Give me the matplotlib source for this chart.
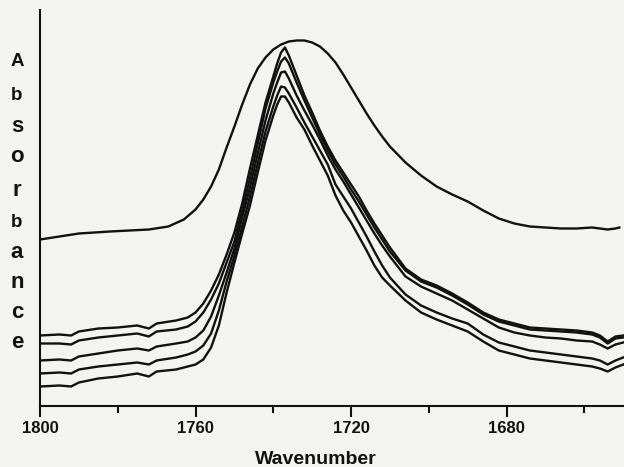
import matplotlib
matplotlib.use("Agg")
import matplotlib.pyplot as plt

# ---- data ----
wavenumber = [1800, 1795, 1792, 1790, 1785, 1780, 1775, 1772, 1770, 1765,
              1762, 1760, 1758, 1756, 1754, 1752, 1750, 1748, 1746, 1744,
              1742, 1740, 1739, 1738, 1737, 1736, 1734, 1732, 1730, 1728,
              1726, 1724, 1722, 1720, 1718, 1716, 1714, 1712, 1710, 1706,
              1702, 1698, 1694, 1690, 1686, 1682, 1678, 1674, 1670, 1666,
              1662, 1658, 1656, 1654, 1652, 1650]

spec1 = [0.70, 0.71, 0.70, 0.74, 0.77, 0.78, 0.80, 0.77, 0.82, 0.85,
         0.88, 0.93, 1.02, 1.15, 1.31, 1.51, 1.73, 2.02, 2.37, 2.70,
         3.03, 3.29, 3.42, 3.53, 3.58, 3.50, 3.30, 3.10, 2.93, 2.75,
         2.59, 2.45, 2.33, 2.21, 2.09, 1.95, 1.82, 1.70, 1.58, 1.37,
         1.26, 1.20, 1.12, 1.03, 0.93, 0.86, 0.82, 0.78, 0.77, 0.76,
         0.75, 0.73, 0.70, 0.64, 0.69, 0.70]
spec2 = [0.62, 0.62, 0.61, 0.65, 0.68, 0.70, 0.72, 0.69, 0.74, 0.76,
         0.79, 0.84, 0.93, 1.06, 1.22, 1.43, 1.64, 1.95, 2.27, 2.62,
         2.97, 3.23, 3.34, 3.44, 3.48, 3.42, 3.23, 3.05, 2.88, 2.71,
         2.55, 2.41, 2.29, 2.16, 2.04, 1.91, 1.78, 1.66, 1.54, 1.35,
         1.24, 1.18, 1.10, 1.01, 0.91, 0.84, 0.80, 0.76, 0.75, 0.74,
         0.73, 0.71, 0.68, 0.62, 0.67, 0.68]
spec3 = [0.45, 0.46, 0.45, 0.49, 0.52, 0.55, 0.57, 0.55, 0.59, 0.62,
         0.64, 0.68, 0.75, 0.89, 1.10, 1.33, 1.57, 1.88, 2.18, 2.52,
         2.85, 3.12, 3.23, 3.33, 3.34, 3.27, 3.10, 2.95, 2.81, 2.66,
         2.50, 2.36, 2.24, 2.11, 1.98, 1.85, 1.72, 1.60, 1.49, 1.29,
         1.19, 1.12, 1.05, 0.96, 0.87, 0.78, 0.73, 0.70, 0.68, 0.67,
         0.65, 0.64, 0.61, 0.57, 0.61, 0.63]
spec4 = [0.32, 0.33, 0.32, 0.36, 0.39, 0.41, 0.43, 0.41, 0.45, 0.48,
         0.51, 0.54, 0.60, 0.72, 0.95, 1.24, 1.50, 1.79, 2.09, 2.42,
         2.74, 2.99, 3.10, 3.19, 3.18, 3.12, 2.98, 2.83, 2.69, 2.55,
         2.41, 2.21, 2.09, 1.97, 1.83, 1.69, 1.54, 1.40, 1.28, 1.11,
         1.00, 0.93, 0.87, 0.82, 0.71, 0.63, 0.59, 0.55, 0.53, 0.51,
         0.49, 0.47, 0.45, 0.41, 0.45, 0.48]
spec5 = [0.19, 0.20, 0.19, 0.23, 0.27, 0.29, 0.32, 0.29, 0.34, 0.36,
         0.39, 0.41, 0.46, 0.58, 0.80, 1.13, 1.43, 1.72, 2.00, 2.33,
         2.65, 2.90, 3.01, 3.09, 3.09, 3.03, 2.88, 2.76, 2.60, 2.45,
         2.30, 2.10, 1.95, 1.83, 1.69, 1.55, 1.40, 1.28, 1.20, 1.05,
         0.93, 0.86, 0.80, 0.74, 0.64, 0.55, 0.51, 0.47, 0.45, 0.43,
         0.41, 0.39, 0.37, 0.34, 0.38, 0.41]

broad_wavenumber = [1800, 1795, 1790, 1782, 1772, 1767, 1763, 1760, 1758, 1756,
                    1754, 1752, 1750, 1748, 1746, 1744, 1742, 1740, 1738, 1736,
                    1734, 1732, 1730, 1728, 1726, 1724, 1722, 1720, 1718, 1716,
                    1714, 1712, 1710, 1706, 1702, 1698, 1694, 1690, 1686, 1682,
                    1678, 1674, 1670, 1666, 1662, 1658, 1656, 1654, 1652, 1651]
broad = [1.66, 1.69, 1.72, 1.74, 1.76, 1.79, 1.86, 1.96, 2.06, 2.19,
         2.36, 2.58, 2.79, 3.01, 3.21, 3.37, 3.48, 3.56, 3.61, 3.64,
         3.65, 3.65, 3.63, 3.59, 3.52, 3.43, 3.31, 3.18, 3.05, 2.92,
         2.80, 2.69, 2.59, 2.43, 2.30, 2.19, 2.11, 2.04, 1.95, 1.87,
         1.82, 1.79, 1.78, 1.77, 1.77, 1.78, 1.77, 1.76, 1.77, 1.78]

major_ticks = [1800, 1760, 1720, 1680]
minor_ticks = [1780, 1740, 1700, 1660]
xlabel = "Wavenumber"
ylabel = "Absorbance"

font = "Liberation Sans"

W, H = 624, 467
bg = "#f3f3f1"
ink = "#111111"

fig = plt.figure(figsize=(W / 100, H / 100), dpi=100, facecolor=bg)
ax = fig.add_axes([40 / W, (H - 405.5) / H, (W - 40) / W, (405.5 - 10) / H])
ax.set_facecolor(bg)

for s in [spec1, spec2, spec3, spec4, spec5]:
    ax.plot(wavenumber, s, color=ink, lw=1.7, solid_joinstyle="round")
ax.plot(broad_wavenumber, broad, color=ink, lw=1.7, solid_joinstyle="round")

ax.set_xlim(1800, 1649.8)
ax.set_ylim(0, 3.955)

for sp in ["top", "right"]:
    ax.spines[sp].set_visible(False)
for sp in ["left", "bottom"]:
    ax.spines[sp].set_linewidth(1.5)
    ax.spines[sp].set_color(ink)

ax.set_yticks([])
ax.set_xticks(major_ticks)
ax.set_xticks(minor_ticks, minor=True)
ax.tick_params(axis="x", which="major", direction="out", length=8, width=1.5,
               color=ink, pad=3)
ax.tick_params(axis="x", which="minor", direction="out", length=5, width=1.5,
               color=ink)
ax.set_xticklabels([str(t) for t in major_ticks], fontsize=12,
                   fontfamily=font, fontweight="bold", color=ink)

fig.text(316 / W, 1 - 459 / H, xlabel, ha="center", va="center",
         fontsize=14, fontfamily=font, fontweight="bold", color=ink)

ypos = [62, 95, 127, 157, 190, 222, 252, 282, 312, 342]
for ch, py in zip(ylabel, ypos):
    size = 13.5 if ch in "Ab" else 16
    fig.text(17 / W, 1 - py / H, ch, ha="center", va="center",
             fontsize=size, fontfamily=font, fontweight="bold", color=ink)

fig.savefig("out.png", dpi=100, facecolor=bg)
